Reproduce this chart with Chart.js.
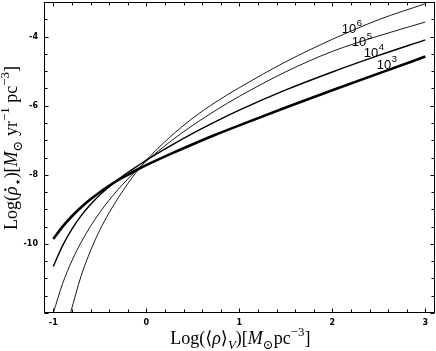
<!DOCTYPE html>
<html><head><meta charset="utf-8">
<script src="https://cdn.jsdelivr.net/npm/chart.js@4.4.1/dist/chart.umd.min.js"></script>
<style>html,body{margin:0;padding:0;background:#fff;}#wrap{width:436px;height:351px;}</style>
</head><body><div id="wrap"><canvas id="c" width="436" height="351"></canvas></div>
<script>
// ---- data ----
const xGrid   = [-1, -0.9, -0.8, -0.7, -0.6, -0.5, -0.4, -0.3, -0.2, -0.1, 0, 0.25, 0.5, 0.75, 1, 1.5, 2, 2.5, 3];
const rate1e3 = [-9.86, -9.50, -9.20, -8.94, -8.71, -8.505, -8.32, -8.15, -8.00, -7.855, -7.72, -7.41, -7.115, -6.835, -6.57, -6.055, -5.555, -5.065, -4.58];
const rate1e4 = [-10.65, -10.05, -9.57, -9.18, -8.86, -8.585, -8.345, -8.13, -7.935, -7.755, -7.575, -7.175, -6.80, -6.455, -6.13, -5.545, -5.025, -4.545, -4.095];
const rate1e5 = [-12.0, -11.15, -10.49, -9.95, -9.49, -9.09, -8.735, -8.415, -8.125, -7.855, -7.605, -7.055, -6.5675, -6.13, -5.73, -5.02, -4.43, -3.98, -3.58];
const x1e6    = [-0.815, -0.7, -0.6, -0.5, -0.4, -0.3, -0.2, -0.1, 0, 0.25, 0.5, 0.75, 1, 1.5, 2, 2.5, 3];
const rate1e6 = [-12.0, -10.92, -10.2, -9.6, -9.1, -8.66, -8.26, -7.90, -7.58, -6.92, -6.36, -5.89, -5.48, -4.73, -4.08, -3.51, -3.05];

const seriesBase = ['10', '10', '10', '10'];
const seriesExp  = ['3', '4', '5', '6'];
// label anchors (data units, left/baseline of "10")
const labelX = [2.478, 2.339, 2.21, 2.102];
const labelY = [-4.934, -4.587, -4.27, -3.893];

const xTickValues = [-1, 0, 1, 2, 3];
const xTickLabels = ['-1', '0', '1', '2', '3'];
const yTickValues = [-10, -8, -6, -4];
const yTickLabels = ['-10', '-8', '-6', '-4'];
const xMinorStep = 0.2;
const yMinorStep = 0.5;

const toPts = (xs, ys) => xs.map((x, i) => ({x, y: ys[i]}));

const SERIF = "'Liberation Serif','DejaVu Serif',serif";

function drawRich(ctx, segs, size, x, y, align) {
  const fontFor = s => {
    const sz = (s.sub || s.sup) ? size * 0.72 : size;
    return (s.it ? 'italic ' : '') + sz + 'px ' + SERIF;
  };
  let w = 0;
  segs.forEach(s => { ctx.font = fontFor(s); w += ctx.measureText(s.t).width + (s.dx || 0); });
  let cx = align === 'center' ? x - w / 2 : x;
  segs.forEach(s => {
    ctx.font = fontFor(s);
    let dy = 0;
    if (s.sub) dy = size * 0.28;
    if (s.sup) dy = -size * 0.42;
    ctx.fillText(s.t, cx, y + dy);
    if (s.dot) {
      const ww = ctx.measureText(s.t).width;
      ctx.beginPath();
      ctx.arc(cx + ww * 0.62, y - size * 0.62, size * 0.065, 0, Math.PI * 2);
      ctx.fill();
    }
    cx += ctx.measureText(s.t).width + (s.dx || 0);
  });
}

const decor = {
  id: 'decor',
  afterDraw(chart) {
    const {ctx, chartArea: a, scales: {x, y}} = chart;
    ctx.save();
    ctx.strokeStyle = '#000';
    ctx.lineWidth = 1;
    ctx.strokeRect(Math.round(a.left) + 0.5, Math.round(a.top) + 0.5,
                   Math.round(a.right - a.left) - 1, Math.round(a.bottom - a.top) - 1);
    ctx.beginPath();
    const L = Math.round(a.left) + 0.5, R = Math.round(a.right) - 0.5;
    const T = Math.round(a.top) + 0.5, B = Math.round(a.bottom) - 0.5;
    for (let k = -6; k <= 21; k++) {
      const v = xTickValues[0] + k * xMinorStep;
      if (v < x.min || v > x.max) continue;
      const major = Math.abs(v - Math.round(v)) < 1e-6;
      const len = major ? 4 : 3;
      const px = Math.round(x.getPixelForValue(v)) + 0.5;
      ctx.moveTo(px, B); ctx.lineTo(px, B - len);
      ctx.moveTo(px, T); ctx.lineTo(px, T + len);
    }
    for (let k = -4; k <= 20; k++) {
      const v = -12 + k * yMinorStep;
      if (v < y.min || v > y.max) continue;
      const major = Math.abs(v / 2 - Math.round(v / 2)) < 1e-6;
      const len = major ? 4 : 3;
      const py = Math.round(y.getPixelForValue(v)) + 0.5;
      ctx.moveTo(L, py); ctx.lineTo(L + len, py);
      ctx.moveTo(R, py); ctx.lineTo(R - len, py);
    }
    ctx.stroke();

    // curve labels
    ctx.fillStyle = '#000';
    ctx.textBaseline = 'alphabetic';
    ctx.textAlign = 'left';
    for (let i = 0; i < seriesBase.length; i++) {
      const px = x.getPixelForValue(labelX[i]);
      const py = y.getPixelForValue(labelY[i]);
      ctx.font = "13px 'Liberation Sans',Arial,sans-serif";
      ctx.fillText(seriesBase[i], px, py);
      const w = ctx.measureText(seriesBase[i]).width;
      ctx.font = "9.5px 'Liberation Sans',Arial,sans-serif";
      ctx.fillText(seriesExp[i], px + w + 0.5, py - 7);
    }

    // x axis title
    drawRich(ctx, [
      {t: 'Log(⟨'}, {t: 'ρ', it: true}, {t: '⟩'}, {t: 'V', it: true, sub: true}, {t: ')['},
      {t: 'M', it: true}, {t: '⊙', sub: true}, {t: 'pc'}, {t: '−3', sup: true}, {t: ']'}
    ], 18, (a.left + a.right) / 2 + 1, 344, 'center');

    // y axis title
    ctx.translate(16.5, 148);
    ctx.rotate(-Math.PI / 2);
    drawRich(ctx, [
      {t: 'Log('}, {t: 'ρ', it: true, dot: true}, {t: '⋆', sub: true}, {t: ')['},
      {t: 'M', it: true}, {t: '⊙', sub: true}, {t: ' yr'}, {t: '−1', sup: true}, {t: ' pc'}, {t: '−3', sup: true}, {t: ']'}
    ], 18, 0, 0, 'center');
    ctx.restore();
  }
};

const tickFont = {family: "'DejaVu Sans',sans-serif", weight: 'bold', size: 8};

new Chart(document.getElementById('c'), {
  type: 'line',
  data: {
    datasets: [
      {data: toPts(xGrid, rate1e3), borderColor: '#000', borderWidth: 2.6},
      {data: toPts(xGrid, rate1e4), borderColor: '#000', borderWidth: 1.4},
      {data: toPts(xGrid, rate1e5), borderColor: '#000', borderWidth: 0.9},
      {data: toPts(x1e6, rate1e6), borderColor: '#000', borderWidth: 0.9}
    ]
  },
  options: {
    responsive: false,
    animation: false,
    devicePixelRatio: 1,
    parsing: false,
    layout: {padding: {left: 0, right: 1.4, top: 2, bottom: 0}},
    plugins: {legend: {display: false}, tooltip: {enabled: false}},
    elements: {point: {radius: 0}, line: {cubicInterpolationMode: 'monotone', fill: false}},
    scales: {
      x: {
        type: 'linear', min: -1.1, max: 3.1,
        afterBuildTicks: s => { s.ticks = xTickValues.map(v => ({value: v})); },
        afterFit: s => { s.height = 38; s.paddingLeft = 0; s.paddingRight = 0; },
        ticks: {callback: v => xTickLabels[xTickValues.indexOf(v)], font: tickFont, color: '#000', padding: 5, maxRotation: 0, autoSkip: false},
        grid: {display: false, drawTicks: false},
        border: {display: false}
      },
      y: {
        type: 'linear', min: -12, max: -3,
        afterBuildTicks: s => { s.ticks = yTickValues.map(v => ({value: v})); },
        afterFit: s => { s.width = 44; s.paddingTop = 0; s.paddingBottom = 0; },
        ticks: {callback: v => yTickLabels[yTickValues.indexOf(v)], font: tickFont, color: '#000', padding: 6, autoSkip: false},
        grid: {display: false, drawTicks: false},
        border: {display: false}
      }
    }
  },
  plugins: [decor]
});
</script>
</body></html>
